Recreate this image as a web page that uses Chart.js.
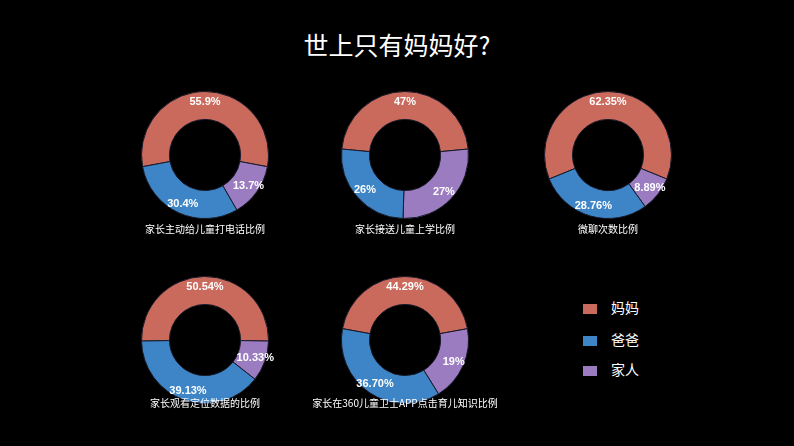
<!DOCTYPE html>
<html><head><meta charset="utf-8">
<script src="https://cdn.jsdelivr.net/npm/chart.js@4"></script>
<style>
body{margin:0;background:#000;width:794px;height:446px;overflow:hidden;position:relative;font-family:"Noto Sans CJK SC",sans-serif;color:#fff}
.t{position:absolute;left:0;width:794px;top:26px;text-align:center;font-size:25px}
.c{position:absolute;width:140px;height:140px}
.cap{position:absolute;width:260px;text-align:center;font-size:10px}
.lg{position:absolute;left:583px;font-size:14px}
.lg span{display:inline-block;width:14px;height:10px;margin-right:14px;vertical-align:middle}
</style></head><body>
<div class="t">世上只有妈妈好?</div>
<div id="wrap"></div>
<div class="lg" style="top:297px"><span style="background:#c96a5c"></span>妈妈</div>
<div class="lg" style="top:329px"><span style="background:#3d85c6"></span>爸爸</div>
<div class="lg" style="top:359px"><span style="background:#9b7cc0"></span>家人</div>
<script>
const titles = ['家长主动给儿童打电话比例', '家长接送儿童上学比例', '微聊次数比例', '家长观看定位数据的比例', '家长在360儿童卫士APP点击育儿知识比例']
const mom = [55.9, 47, 62.35, 50.54, 44.29]
const family = [13.7, 27, 8.89, 10.33, 19]
const dad = [30.4, 26, 28.76, 39.13, 36.70]
const momText = ['55.9%', '47%', '62.35%', '50.54%', '44.29%']
const familyText = ['13.7%', '27%', '8.89%', '10.33%', '19%']
const dadText = ['30.4%', '26%', '28.76%', '39.13%', '36.70%']
const centers = [[205,155],[405,155],[608,155],[205,340],[405,340]]
const capY = [221,221,221,395,395]

const labelPlugin = {
    id: 'lbl',
    afterDatasetsDraw(chart) {
        const ctx = chart.ctx
        const meta = chart.getDatasetMeta(0)
        const texts = chart.options.plugins.lbl.texts
        ctx.save()
        ctx.fillStyle = '#fff'
        ctx.font = 'bold 11px "Liberation Sans", Arial'
        ctx.textAlign = 'center'
        ctx.textBaseline = 'middle'
        meta.data.forEach((arc, i) => {
            const a = (arc.startAngle + arc.endAngle) / 2
            const r = arc.outerRadius * 0.84
            ctx.fillText(texts[i], arc.x + Math.cos(a) * r, arc.y + Math.sin(a) * r)
        })
        ctx.restore()
    }
}

const wrap = document.getElementById('wrap')
for (let i = 0; i < mom.length; i++) {
    const cv = document.createElement('canvas')
    cv.className = 'c'
    cv.width = 140; cv.height = 140
    cv.style.left = (centers[i][0] - 70) + 'px'
    cv.style.top = (centers[i][1] - 70) + 'px'
    wrap.appendChild(cv)
    const cap = document.createElement('div')
    cap.className = 'cap'
    cap.textContent = titles[i]
    cap.style.left = (centers[i][0] - 130) + 'px'
    cap.style.top = capY[i] + 'px'
    wrap.appendChild(cap)
    new Chart(cv, {
        type: 'doughnut',
        data: {
            labels: ['妈妈', '家人', '爸爸'],
            datasets: [{
                data: [mom[i], family[i], dad[i]],
                backgroundColor: ['#c96a5c', '#9b7cc0', '#3d85c6'],
                borderColor: '#1a1a2a',
                borderWidth: 1
            }]
        },
        options: {
            responsive: false,
            animation: false,
            cutout: '56%',
            rotation: -mom[i] / 100 * 180,
            layout: { padding: 6 },
            plugins: { legend: { display: false }, tooltip: { enabled: false }, lbl: { texts: [momText[i], familyText[i], dadText[i]] } }
        },
        plugins: [labelPlugin]
    })
}
</script>
</body></html>
